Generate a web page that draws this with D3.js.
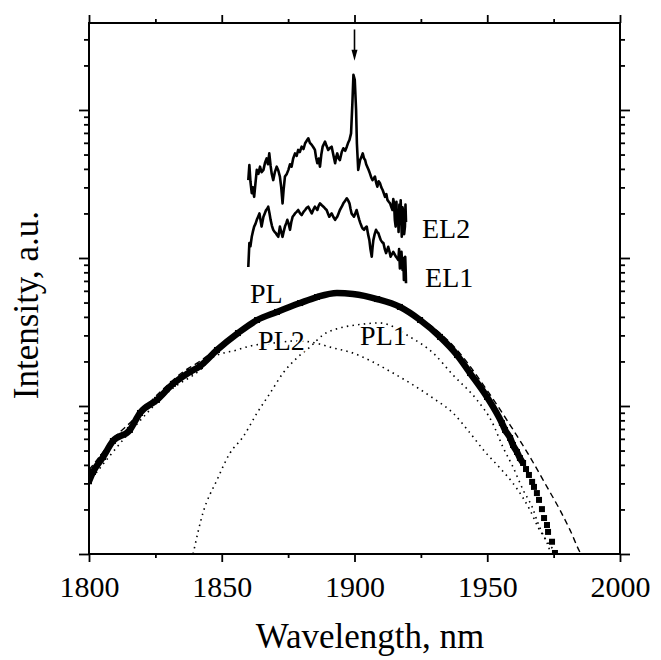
<!DOCTYPE html>
<html><head><meta charset="utf-8">
<script src="https://cdn.jsdelivr.net/npm/d3@7"></script>
<style>
body{margin:0;background:#fff}
text{font-family:"Liberation Serif","Times New Roman",serif;fill:#000}
</style>
</head><body>
<svg id="chart" width="661" height="660"></svg>
<script>
// ---------- data ----------
const xMajorTicks = [1800, 1850, 1900, 1950, 2000];
const xMinorTicks = [1825, 1875, 1925, 1975];
const yMajorTicks = [1, 10, 100, 1000];
const yMinorTicks = [2,3,4,5,6,7,8,9,20,30,40,50,60,70,80,90,200,300,400,500,600,700,800,900,2000,3000];

// PL measured spectrum (square markers)
const plWl  = [1800.0,1801.5,1805.3,1809.0,1815.4,1819.2,1825.6,1831.6,1838.0,1841.8,1848.2,1856.1,1863.3,1870.8,1879.5,1885.9,1893.4,1899.4,1908.5,1917.1,1924.7,1932.2,1938.6,1943.5,1949.9,1955.5,1956.7,1958.6,1959.7,1961.2,1962.3,1963.5,1964.6,1965.7,1966.9,1967.6,1968.7,1969.5,1970.6,1971.4,1972.5,1972.9,1974.4,1975.5];
const plInt = [3.1,3.58,4.52,5.80,6.89,8.97,11.0,14.1,17.0,18.6,23.9,31.1,38.1,43.2,49.6,54.5,58.0,57.1,52.8,46.7,38.1,29.3,22.1,16.7,11.5,7.68,6.89,6.08,5.45,4.89,4.45,4.12,3.75,3.42,3.07,2.84,2.58,2.32,2.01,1.75,1.57,1.41,1.21,1.016];

// PL1 component (dotted)
const pl1Wl  = [1839.2,1842.9,1848.2,1853.1,1858.0,1863.3,1868.2,1873.1,1878.3,1883.2,1888.1,1894.5,1900.9,1909.6,1920.9,1929.6,1937.1,1946.1,1951.8,1955.9,1959.7,1963.5,1966.9,1969.1,1971.7,1974.4,1977.4];
const pl1Int = [1.0,1.89,3.16,4.81,6.17,8.97,12.2,16.7,21.1,25.0,30.2,33.7,35.3,36.4,29.3,22.8,16.2,11.0,7.80,5.28,3.87,2.71,2.08,1.62,1.28,1.10,1.0];

// PL2 component (dotted)
const pl2Wl  = [1800.0,1815.4,1831.6,1841.8,1846.7,1855.7,1860.6,1870.1,1877.6,1883.2,1891.9,1899.4,1907.0,1914.5,1922.0,1929.6,1937.1,1943.5,1949.2,1954.8,1959.3,1963.5,1966.1,1969.1,1972.5,1974.0];
const pl2Int = [3.07,6.67,13.2,17.5,21.4,23.9,25.4,26.7,27.5,27.1,24.7,22.8,19.8,16.7,13.9,11.3,8.97,6.57,4.89,3.81,3.07,2.39,1.98,1.52,1.19,1.0];

// Fit (dashed)
const fitWl  = [1800.0,1801.5,1810.5,1815.4,1827.5,1835.4,1840.7,1850.1,1863.3,1879.5,1893.4,1908.5,1924.7,1938.6,1949.9,1958.6,1966.1,1972.5,1977.4,1981.2,1984.9,1985.3];
const fitInt = [3.70,3.99,6.37,7.68,12.8,17.0,19.5,25.8,38.1,50.4,58.9,53.7,39.3,23.9,12.8,7.44,4.52,2.84,1.98,1.45,1.03,1.0];

// EL2 spectrum
const el2Wl  = [1860.0,1860.4,1860.8,1861.3,1861.7,1862.2,1862.7,1863.2,1863.8,1864.4,1865.0,1865.7,1866.3,1866.9,1867.4,1867.9,1868.4,1868.8,1869.4,1870.0,1870.7,1871.3,1871.9,1872.4,1872.9,1873.3,1873.8,1874.5,1875.1,1875.7,1876.3,1876.9,1877.6,1878.2,1878.8,1879.4,1880.1,1880.8,1881.4,1882.0,1882.6,1883.2,1883.9,1884.5,1885.1,1885.5,1886.0,1886.5,1887.0,1887.5,1888.0,1888.5,1888.9,1889.5,1890.1,1890.8,1891.4,1892.0,1892.7,1893.1,1893.5,1894.0,1894.5,1895.2,1895.8,1896.5,1897.1,1897.6,1898.1,1898.7,1899.2,1899.6,1900.1,1900.6,1900.9,1901.4,1901.8,1902.1,1902.6,1903.1,1903.6,1904.0,1904.4,1904.8,1905.3,1905.8,1906.3,1906.8,1907.2,1907.7,1908.2,1908.6,1909.1,1909.6,1910.1,1910.6,1911.0,1911.5,1912.0,1912.4,1912.9,1913.4,1913.9,1914.3,1914.6,1914.9,1915.2,1915.5,1915.8,1916.0,1916.3,1916.6,1916.9,1917.1,1917.4,1917.8,1918.1,1918.4,1918.7,1919.0,1919.2,1919.4];
const el2Int = [336,425,330,274,300,259,320,394,370,414,380,394,440,471,430,509,420,373,336,380,414,390,355,300,234,290,355,370,394,430,414,470,509,490,537,520,565,545,596,620,644,600,581,560,537,480,437,470,414,500,565,590,611,570,537,555,565,500,437,480,509,470,459,520,551,530,565,600,627,695,1109,1726,1596,1000,596,394,430,459,480,509,470,459,430,414,395,373,350,336,345,355,320,303,330,320,300,288,275,259,270,247,240,234,220,211,250,234,180,163,240,170,211,150,230,181,245,139,220,200,145,163,230,175];

// EL1 spectrum
const el1Wl  = [1860.0,1860.4,1860.8,1861.3,1861.7,1862.2,1862.7,1863.2,1863.7,1864.2,1865.0,1865.7,1866.2,1866.7,1867.1,1867.5,1868.0,1868.4,1868.9,1869.4,1869.9,1870.4,1870.8,1871.3,1871.9,1872.4,1872.9,1873.3,1873.8,1874.3,1874.7,1875.2,1875.7,1876.2,1876.7,1877.2,1877.6,1878.2,1878.8,1879.5,1880.1,1880.8,1881.4,1882.0,1882.6,1883.3,1883.9,1884.5,1885.1,1885.6,1886.0,1886.5,1887.0,1887.6,1888.3,1888.9,1889.5,1890.0,1890.5,1891.0,1891.4,1892.0,1892.7,1893.1,1893.5,1894.0,1894.5,1895.2,1895.8,1896.5,1897.1,1897.6,1898.1,1898.5,1898.9,1899.3,1899.8,1900.3,1900.8,1901.3,1901.8,1902.2,1902.7,1903.1,1903.6,1904.1,1904.6,1905.1,1905.6,1906.0,1906.5,1906.8,1907.1,1907.6,1908.1,1908.5,1909.0,1909.5,1909.9,1910.4,1910.9,1911.4,1911.9,1912.3,1912.7,1913.2,1913.6,1914.1,1914.6,1915.1,1915.6,1916.0,1916.5,1916.8,1917.1,1917.4,1917.7,1918.1,1918.4,1918.6,1918.9,1919.1,1919.3,1919.4];
const el1Int = [87,126,120,139,150,163,170,181,190,200,163,190,200,211,215,222,200,181,165,155,150,147,143,139,163,150,139,150,163,172,181,170,155,175,190,195,200,205,211,200,195,205,211,218,222,210,200,212,222,216,211,225,234,228,222,216,211,200,190,196,200,190,181,186,190,200,211,222,234,244,253,245,234,215,200,195,190,200,211,195,181,172,163,158,155,160,163,145,132,115,102,118,132,145,155,150,147,138,132,128,126,115,108,113,119,110,102,106,110,106,102,100,97,115,85,92,110,83,100,71,95,102,80,67.5];

// annotations (text, wavelength, intensity at baseline)
const labelText = ["PL","PL2","PL1","EL2","EL1"];
const labelWl   = [1860.6,1863.7,1902.1,1925.4,1926.6];
const labelInt  = [49.6,23.9,25.8,136.5,63.7];

// arrow marking the lasing line
const arrowWl = 1900, arrowFrom = 3500, arrowTo = 2150;

// PL curve drawn as continuous band up to this wavelength, isolated squares beyond
const plBandEnd = 1963.5;

// ---------- chart ----------
const svg = d3.select("#chart");
const L = 89, R = 620, T = 23, B = 554;
const x = d3.scaleLinear().domain([1800, 2000]).range([L, R]);
const y = d3.scaleLog().domain([1, 3870]).range([B, T]);

const zip = (a, b) => a.map((v, i) => [v, b[i]]);
const lin = d3.line().x(d => x(d[0])).y(d => y(d[1]));
const smooth = d3.line().x(d => x(d[0])).y(d => y(d[1])).curve(d3.curveMonotoneX);

const g = svg.append("g");
svg.append("clipPath").attr("id","clip").append("rect")
  .attr("x", L).attr("y", T).attr("width", R - L).attr("height", B - T);
const plot = g.append("g").attr("clip-path","url(#clip)");

// dotted components
plot.append("path").datum(zip(pl1Wl, pl1Int)).attr("d", smooth)
  .attr("fill","none").attr("stroke","#000").attr("stroke-width",1.6).attr("stroke-dasharray","1.5 4.2");
plot.append("path").datum(zip(pl2Wl, pl2Int)).attr("d", smooth)
  .attr("fill","none").attr("stroke","#000").attr("stroke-width",1.6).attr("stroke-dasharray","1.5 4.2");
// dashed fit
plot.append("path").datum(zip(fitWl, fitInt)).attr("d", smooth)
  .attr("fill","none").attr("stroke","#000").attr("stroke-width",1.4).attr("stroke-dasharray","6 4");

// PL thick markers
const plData = zip(plWl, plInt);
plot.append("path").datum(plData.filter(d => d[0] <= plBandEnd)).attr("d", smooth)
  .attr("fill","none").attr("stroke","#000").attr("stroke-width",6.5);
plot.selectAll("rect.pl").data(plData).enter().append("rect").attr("class","pl")
  .attr("x", d => x(d[0]) - 3).attr("y", d => y(d[1]) - 3)
  .attr("width", 6).attr("height", 6).attr("fill","#000");

// EL curves
[zip(el2Wl, el2Int), zip(el1Wl, el1Int)].forEach(dat => {
  plot.append("path").datum(dat).attr("d", lin)
    .attr("fill","none").attr("stroke","#000").attr("stroke-width",2.6).attr("stroke-linejoin","round");
});

// arrow
g.append("line").attr("x1", x(arrowWl)).attr("x2", x(arrowWl))
  .attr("y1", y(arrowFrom)).attr("y2", y(arrowTo) - 9)
  .attr("stroke","#000").attr("stroke-width",1.6);
g.append("path")
  .attr("d", `M${x(arrowWl)-3},${y(arrowTo)-11} L${x(arrowWl)+3},${y(arrowTo)-11} L${x(arrowWl)},${y(arrowTo)} Z`)
  .attr("fill","#000");

// labels
labelText.forEach((t, i) => {
  g.append("text").attr("x", x(labelWl[i])).attr("y", y(labelInt[i]))
    .attr("font-size", 28).text(t)
    .attr("stroke","#fff").attr("stroke-width",3).attr("paint-order","stroke");
});

// frame
g.append("rect").attr("x", L).attr("y", T).attr("width", R - L).attr("height", B - T)
  .attr("fill","none").attr("stroke","#000").attr("stroke-width",2);

// axes
const ax = (gen, tx, ty) => g.append("g").attr("transform",`translate(${tx},${ty})`).call(gen)
  .call(s => s.select(".domain").remove())
  .call(s => s.selectAll("line").attr("stroke","#000").attr("stroke-width",1.8));

ax(d3.axisBottom(x).tickValues(xMajorTicks).tickSize(8).tickFormat(d3.format("d")), 0, B)
  .call(s => s.selectAll("text").attr("font-size",30).attr("dy","1.05em")
    .attr("font-family","Liberation Serif").attr("fill","#000"));
ax(d3.axisBottom(x).tickValues(xMinorTicks).tickSize(4).tickFormat(""), 0, B);
ax(d3.axisTop(x).tickValues(xMajorTicks).tickSize(8).tickFormat(""), 0, T);
ax(d3.axisTop(x).tickValues(xMinorTicks).tickSize(4).tickFormat(""), 0, T);
ax(d3.axisLeft(y).tickValues(yMajorTicks).tickSize(10).tickFormat(""), L, 0);
ax(d3.axisLeft(y).tickValues(yMinorTicks).tickSize(5).tickFormat(""), L, 0);
ax(d3.axisRight(y).tickValues(yMajorTicks).tickSize(10).tickFormat(""), R, 0);
ax(d3.axisRight(y).tickValues(yMinorTicks).tickSize(5).tickFormat(""), R, 0);

// axis titles
g.append("text").attr("x", 370).attr("y", 648).attr("text-anchor","middle")
  .attr("font-size",35).text("Wavelength, nm");
g.append("text").attr("transform","translate(38,305) rotate(-90)").attr("text-anchor","middle")
  .attr("font-size",35).text("Intensity, a.u.");
</script>
</body></html>
